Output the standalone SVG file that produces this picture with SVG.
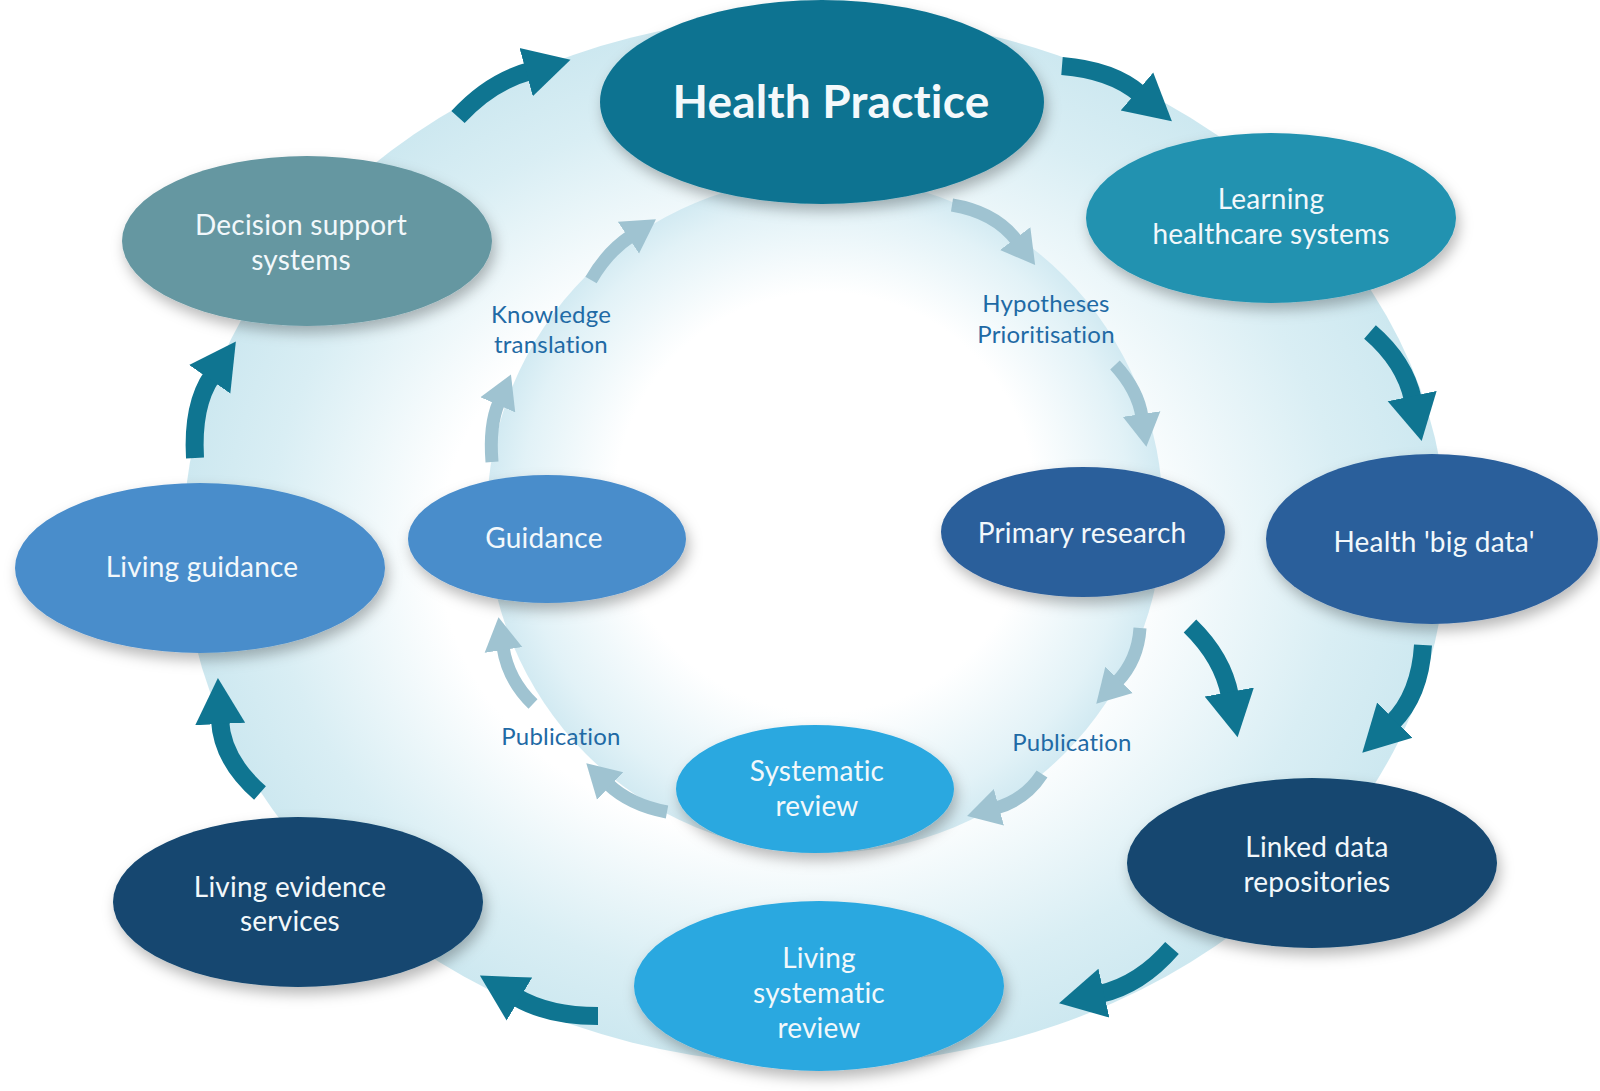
<svg xmlns="http://www.w3.org/2000/svg" width="1600" height="1091" viewBox="0 0 1600 1091">
  <defs>
    <radialGradient id="gOuter" cx="0.5" cy="0.5" r="0.5" fx="0.45" fy="0.52">
      <stop offset="0" stop-color="#ffffff"/>
      <stop offset="0.55" stop-color="#ffffff"/>
      <stop offset="0.85" stop-color="#d9eef4"/>
      <stop offset="1" stop-color="#cde8f0"/>
    </radialGradient>
    <radialGradient id="gInner" cx="0.5" cy="0.5" r="0.5" fx="0.5" fy="0.45">
      <stop offset="0" stop-color="#ffffff"/>
      <stop offset="0.62" stop-color="#ffffff"/>
      <stop offset="0.9" stop-color="#e2f2f7"/>
      <stop offset="1" stop-color="#d2eaf2"/>
    </radialGradient>
    <filter id="shadow" x="-20%" y="-20%" width="140%" height="160%">
      <feDropShadow dx="3" dy="7" stdDeviation="7" flood-color="#000" flood-opacity="0.28"/>
    </filter>
    <marker id="headOuter" markerUnits="userSpaceOnUse" viewBox="0 0 48 54" markerWidth="48" markerHeight="54" refX="4" refY="27" orient="auto">
      <path d="M0,2 L46,27 L0,52 z" fill="#0f7591"/>
    </marker>
    <marker id="headInner" markerUnits="userSpaceOnUse" viewBox="0 0 34 40" markerWidth="34" markerHeight="40" refX="3" refY="20" orient="auto">
      <path d="M0,1 L33,20 L0,39 z" fill="#9fc3d1"/>
    </marker>
    <style>
      .outer { fill: none; stroke: #0f7591; stroke-width: 18; marker-end: url(#headOuter); }
      .inner { fill: none; stroke: #9fc3d1; stroke-width: 13; marker-end: url(#headInner); }
      .node ellipse { filter: url(#shadow); }
      text { font-variant-ligatures: none; font-feature-settings: "liga" 0, "clig" 0, "dlig" 0; letter-spacing: 0.2px; }
      .lbl { font-family: Lato, "Open Sans", "Liberation Sans", sans-serif; font-size: 28px; fill: #f2f8fb; text-anchor: middle; }
      .title { font-family: Lato, "Open Sans", "Liberation Sans", sans-serif; font-size: 46px; font-weight: bold; fill: #f4f9fb; text-anchor: middle; }
      .edge { font-family: Lato, "Open Sans", "Liberation Sans", sans-serif; font-size: 24px; fill: #1f6aa5; text-anchor: middle; }
    </style>
  </defs>

  <rect x="0" y="0" width="1600" height="1091" fill="#ffffff"/>
  <g id="background">
    <ellipse cx="815" cy="540" rx="632" ry="525" fill="url(#gOuter)"/>
    <ellipse cx="825" cy="515" rx="338" ry="338" fill="url(#gInner)"/>
  </g>

  <g id="connectors">
    <path class="outer" d="M458,117 Q490,82 530,71"/>
    <path class="outer" d="M1062,66 Q1112,70 1140,94"/>
    <path class="outer" d="M1370,332 Q1405,362 1413,400"/>
    <path class="outer" d="M1423,645 Q1420,695 1392,723"/>
    <path class="outer" d="M1190,626 Q1223,658 1230,696"/>
    <path class="outer" d="M1172,948 Q1140,985 1100,994"/>
    <path class="outer" d="M598,1016 Q548,1016 516,997"/>
    <path class="outer" d="M260,793 Q222,760 220,720"/>
    <path class="outer" d="M195,458 Q192,405 212,376"/>

    <path class="inner" d="M952,205 Q995,212 1017,241"/>
    <path class="inner" d="M1115,365 Q1138,390 1142,417"/>
    <path class="inner" d="M1140,628 Q1138,660 1117,682"/>
    <path class="inner" d="M1042,774 Q1025,800 996,808"/>
    <path class="inner" d="M667,812 Q630,805 608,784"/>
    <path class="inner" d="M533,704 Q508,680 503,647"/>
    <path class="inner" d="M492,462 Q489,425 499,402"/>
    <path class="inner" d="M591,280 Q607,252 631,236"/>

    <text class="edge" x="551" y="323">Knowledge</text>
    <text class="edge" x="551" y="353">translation</text>
    <text class="edge" x="1046" y="312">Hypotheses</text>
    <text class="edge" x="1046" y="343">Prioritisation</text>
    <text class="edge" x="561" y="745">Publication</text>
    <text class="edge" x="1072" y="751">Publication</text>
  </g>

  <g id="node-health-practice" class="node">
    <ellipse cx="822" cy="102" rx="222" ry="102" fill="#0b7391"/>
    <text class="title" x="831" y="118">Health Practice</text>
  </g>
  <g id="node-learning" class="node">
    <ellipse cx="1271" cy="218" rx="185" ry="85" fill="#2192b0"/>
    <text class="lbl" x="1271" y="209">Learning</text>
    <text class="lbl" x="1271" y="244">healthcare systems</text>
  </g>
  <g id="node-decision" class="node">
    <ellipse cx="307" cy="241" rx="185" ry="85" fill="#6597a1"/>
    <text class="lbl" x="301" y="235">Decision support</text>
    <text class="lbl" x="301" y="270">systems</text>
  </g>
  <g id="node-bigdata" class="node">
    <ellipse cx="1432" cy="539" rx="166" ry="85" fill="#2b5e9b"/>
    <text class="lbl" x="1434" y="552">Health 'big data'</text>
  </g>
  <g id="node-living-guidance" class="node">
    <ellipse cx="200" cy="568" rx="185" ry="85" fill="#4a8dcb"/>
    <text class="lbl" x="202" y="577">Living guidance</text>
  </g>
  <g id="node-guidance" class="node">
    <ellipse cx="547" cy="539" rx="139" ry="64" fill="#4a8dcb"/>
    <text class="lbl" x="544" y="548">Guidance</text>
  </g>
  <g id="node-primary" class="node">
    <ellipse cx="1083" cy="532" rx="142" ry="65" fill="#2b5e9b"/>
    <text class="lbl" x="1082" y="543">Primary research</text>
  </g>
  <g id="node-systematic" class="node">
    <ellipse cx="815" cy="789" rx="139" ry="64" fill="#2aa8e0"/>
    <text class="lbl" x="817" y="781">Systematic</text>
    <text class="lbl" x="817" y="816">review</text>
  </g>
  <g id="node-linked" class="node">
    <ellipse cx="1312" cy="863" rx="185" ry="85" fill="#134770"/>
    <text class="lbl" x="1317" y="857">Linked data</text>
    <text class="lbl" x="1317" y="892">repositories</text>
  </g>
  <g id="node-living-sr" class="node">
    <ellipse cx="819" cy="986" rx="185" ry="85" fill="#2aa8e0"/>
    <text class="lbl" x="819" y="968">Living</text>
    <text class="lbl" x="819" y="1003">systematic</text>
    <text class="lbl" x="819" y="1038">review</text>
  </g>
  <g id="node-living-evidence" class="node">
    <ellipse cx="298" cy="902" rx="185" ry="85" fill="#134770"/>
    <text class="lbl" x="290" y="897">Living evidence</text>
    <text class="lbl" x="290" y="931">services</text>
  </g>
</svg>
